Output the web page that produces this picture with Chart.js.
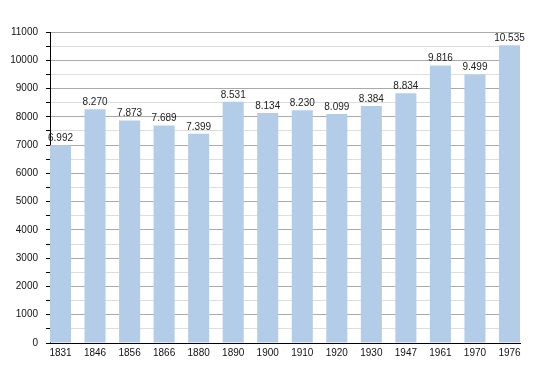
<!DOCTYPE html>
<html>
<head>
<meta charset="utf-8">
<script src="https://cdn.jsdelivr.net/npm/chart.js@4"></script>
<style>
  html, body { margin: 0; padding: 0; background: #fff; }
  #wrap { width: 550px; height: 373px; }
</style>
</head>
<body>
<div id="wrap"><canvas id="barChart"></canvas></div>
<script>
// population by census year
var years = ['1831', '1846', '1856', '1866', '1880', '1890', '1900', '1910', '1920', '1930', '1947', '1961', '1970', '1976'];
var population = [6992, 8270, 7873, 7689, 7399, 8531, 8134, 8230, 8099, 8384, 8834, 9816, 9499, 10535];

// format 8270 -> "8.270"
function fmt(v) {
    var s = String(v);
    return s.slice(0, s.length - 3) + '.' + s.slice(s.length - 3);
}

var points = population.map(function(v, i) { return { x: i, y: v }; });

var valueLabels = {
    id: 'valueLabels',
    afterDatasetsDraw: function(chart) {
        var ctx = chart.ctx;
        var meta = chart.getDatasetMeta(0);
        ctx.save();
        ctx.font = '10px "Liberation Sans", Arial, sans-serif';
        ctx.fillStyle = '#222';
        ctx.textAlign = 'center';
        ctx.textBaseline = 'bottom';
        meta.data.forEach(function(bar, i) {
            ctx.fillText(fmt(population[i]), bar.x, bar.y - 2);
        });
        ctx.restore();
    }
};

Chart.defaults.font.family = '"Liberation Sans", Arial, sans-serif';
Chart.defaults.font.size = 10;
Chart.defaults.color = '#111';

var ctx = document.getElementById('barChart').getContext('2d');
var myChart = new Chart(ctx, {
    type: 'bar',
    data: {
        datasets: [{
            data: points,
            backgroundColor: '#b3cde8',
            borderWidth: 0,
            barPercentage: 0.61,
            categoryPercentage: 1
        }]
    },
    options: {
        responsive: true,
        maintainAspectRatio: false,
        animation: false,
        layout: { padding: { top: 32, right: 30, left: 0, bottom: 0 } },
        plugins: {
            legend: { display: false },
            tooltip: { enabled: false }
        },
        scales: {
            x: {
                type: 'linear',
                offset: false,
                min: -0.304,
                max: 13.304,
                grid: { display: false, drawTicks: false },
                border: { color: '#000', width: 1 },
                ticks: {
                    stepSize: 1,
                    includeBounds: false,
                    autoSkip: false,
                    maxRotation: 0,
                    padding: 4,
                    callback: function(value) { return years[value]; }
                },
                afterFit: function(scale) { scale.height = 30; }
            },
            y: {
                min: 0,
                max: 11000,
                grid: {
                    color: function(c) { return c.tick.value % 1000 === 0 ? '#aaaaaa' : '#dddddd'; },
                    tickColor: '#000',
                    tickLength: 4
                },
                border: { color: '#000', width: 1 },
                ticks: {
                    stepSize: 500,
                    padding: 8,
                    autoSkip: false,
                    callback: function(value) { return value % 1000 === 0 ? value : ''; }
                },
                afterFit: function(scale) { scale.width = 50; }
            }
        }
    },
    plugins: [valueLabels]
});
</script>
</body>
</html>
